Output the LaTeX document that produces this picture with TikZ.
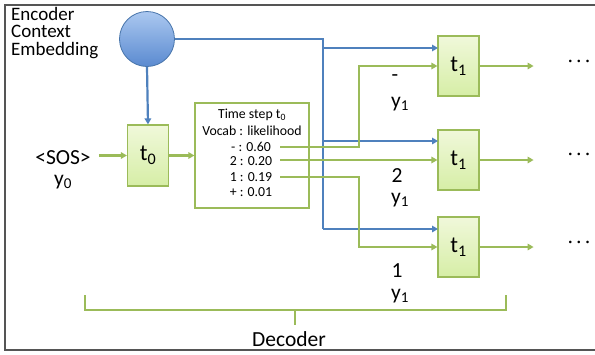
\documentclass[tikz,border=0pt]{standalone}
\usepackage{fontspec}
\setmainfont{Carlito}
\usetikzlibrary{arrows.meta,calc}

\definecolor{lgreen}{HTML}{9BBB59}
\definecolor{lblue}{HTML}{4F81BD}
\definecolor{boxtop}{HTML}{F0F8DA}
\definecolor{boxbot}{HTML}{D6EEA6}
\definecolor{balltop}{HTML}{ABC8F0}
\definecolor{ballbot}{HTML}{5A8AD0}
\definecolor{framegray}{HTML}{555555}

\tikzset{
  gline/.style={draw=lgreen, line width=2.2pt},
  bline/.style={draw=lblue, line width=2.2pt},
  garrow/.style={gline, -{Triangle[length=6pt,width=6.5pt]}},
  barrow/.style={bline, -{Triangle[length=6pt,width=6.5pt]}},
  cell/.style={draw=lgreen, line width=1.2pt, top color=boxtop, bottom color=boxbot,
    minimum width=41pt, minimum height=60pt, inner sep=0pt,
    font=\fontsize{23}{26}\selectfont},
  big/.style={font=\fontsize{21.5}{24}\selectfont, inner sep=0pt},
  small/.style={font=\fontsize{13.8}{15}\selectfont, inner sep=0pt},
  dots/.style={font=\fontsize{18}{20}\selectfont, inner sep=0pt},
}

\begin{document}
\begin{tikzpicture}[x=1pt,y=-1pt]
\useasboundingbox (0,0) rectangle (595,354);

% outer frame (open on the right)
\draw[framegray, line width=1.4pt] (595,5) -- (5,5) -- (5,350) -- (595,350);

% encoder side
\node[align=left, anchor=north west, inner sep=0pt,
      font=\fontsize{19}{17.5}\selectfont] (enclabel) at (11,7)
  {Encoder\\Context\\Embedding};
\node[circle, draw=lblue!90!black, line width=0.8pt, top color=balltop, bottom color=ballbot,
      minimum size=55pt, inner sep=0pt] (enc) at (147,39) {};

% first decoder step
\node[big] (sos) at (63,158) {<SOS>};
\node[big] (y0) at (63,182) {y\textsubscript{0}};
\node[cell, minimum height=61pt] (t0) at (148,155.5) {t\textsubscript{0}};

% vocabulary table
\node[draw=lgreen, line width=1.2pt, fill=white, minimum width=114pt, minimum height=105pt,
      inner sep=0pt] (voc) at (252,155.5) {};
\node[small] (h1) at (252,115) {Time step t\textsubscript{0}};
\node[small] (h2) at (252,131) {Vocab : likelihood};
\node[small] (r1) at (251,147) {- : 0.60};
\node[small] (r2) at (251,161) {2 : 0.20};
\node[small] (r3) at (251,177) {1 : 0.19};
\node[small] (r4) at (251,192) {+ : 0.01};
\coordinate (o1) at (280,147);
\coordinate (o2) at (280,160);
\coordinate (o3) at (280,177);

% second decoder step, one cell per candidate
\node[cell] (ta) at (458.5,66) {t\textsubscript{1}};
\node[cell] (tb) at (458.5,160) {t\textsubscript{1}};
\node[cell] (tc) at (458.5,247) {t\textsubscript{1}};

\node[dots] (da) at (579,63) {·\hspace{4pt}·\hspace{4pt}·};
\node[dots] (db) at (579,156) {·\hspace{4pt}·\hspace{4pt}·};
\node[dots] (dc) at (579,244) {·\hspace{4pt}·\hspace{4pt}·};

% candidate tokens
\node[big] (ka) at (395,78) {-};
\node[big] (ya) at (400,104) {y\textsubscript{1}};
\node[big] (kb) at (397,176) {2};
\node[big] (yb) at (400,200) {y\textsubscript{1}};
\node[big] (kc) at (397,271) {1};
\node[big] (yc) at (400,296) {y\textsubscript{1}};

% context vector routing
\coordinate (bus) at (323,39);
\coordinate (ia) at (438,48);
\coordinate (ib) at (438,141);
\coordinate (ic) at (438,229);
\draw[barrow] (enc.south) -- (t0.north);
\draw[bline] (enc.east) -- (bus) -- (bus |- ic);
\draw[barrow] (bus |- ia) -- (ia);
\draw[barrow] (bus |- ib) -- (ib);
\draw[barrow] (bus |- ic) -- (ic);

% token flow
\draw[garrow, shorten <=8pt] (sos.east |- t0.west) -- (t0.west);
\draw[garrow] (t0.east) -- (voc.west);
\draw[garrow] (o1) -- (359,147) |- (ta.west);
\draw[garrow] (o2) -- (tb.west);
\draw[garrow] (o3) -- (359,177) |- (tc.west);
\draw[garrow] (ta.east) -- ++(54,0);
\draw[garrow] (tb.east) -- ++(54,0);
\draw[garrow] (tc.east) -- ++(54,0);

% decoder bracket
\coordinate (bl) at (85,295);
\coordinate (br) at (506,295);
\draw[gline] (bl) -- (85,310) -- (506,310) -- (br);
\draw[gline] (295,310) -- (295,325);
\node[big] (dec) at (289,339) {Decoder};
\end{tikzpicture}
\end{document}
